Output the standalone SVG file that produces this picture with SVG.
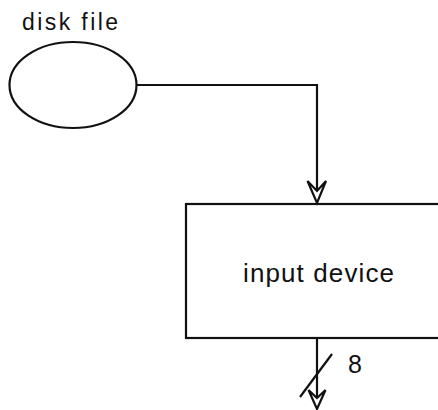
<svg xmlns="http://www.w3.org/2000/svg" width="438" height="410" viewBox="0 0 438 410">
<style>
.s{fill:none;stroke:#111;stroke-width:2.2}
.h{fill:#fff;stroke:#111;stroke-width:2.2;stroke-linejoin:miter}
.t{font-family:"Liberation Sans",Arial,sans-serif;fill:#111}
</style>
<rect width="438" height="410" fill="#fff"/>
<g id="disk-file">
<ellipse class="s" cx="73" cy="85" rx="63.5" ry="43"/>
<text class="t" x="22" y="30" font-size="23" textLength="96" lengthAdjust="spacing">disk file</text>
</g>
<g id="input-device">
<rect class="s" x="186" y="204" width="260" height="134"/>
<text class="t" x="243" y="282" font-size="26" textLength="151" lengthAdjust="spacing">input device</text>
</g>
<g id="connectors">
<path class="s" d="M136.5,85 H317 V194"/>
<path class="h" d="M307.5,181 L317,203 L326,181 L317,191 Z"/>
<path class="s" d="M317,338 V398"/>
<path class="s" d="M300,397 L332,354"/>
<path class="h" d="M308.5,390 L317,409 L325.5,390 L317,398 Z"/>
<text class="t" x="348" y="373" font-size="25">8</text>
</g>
</svg>
